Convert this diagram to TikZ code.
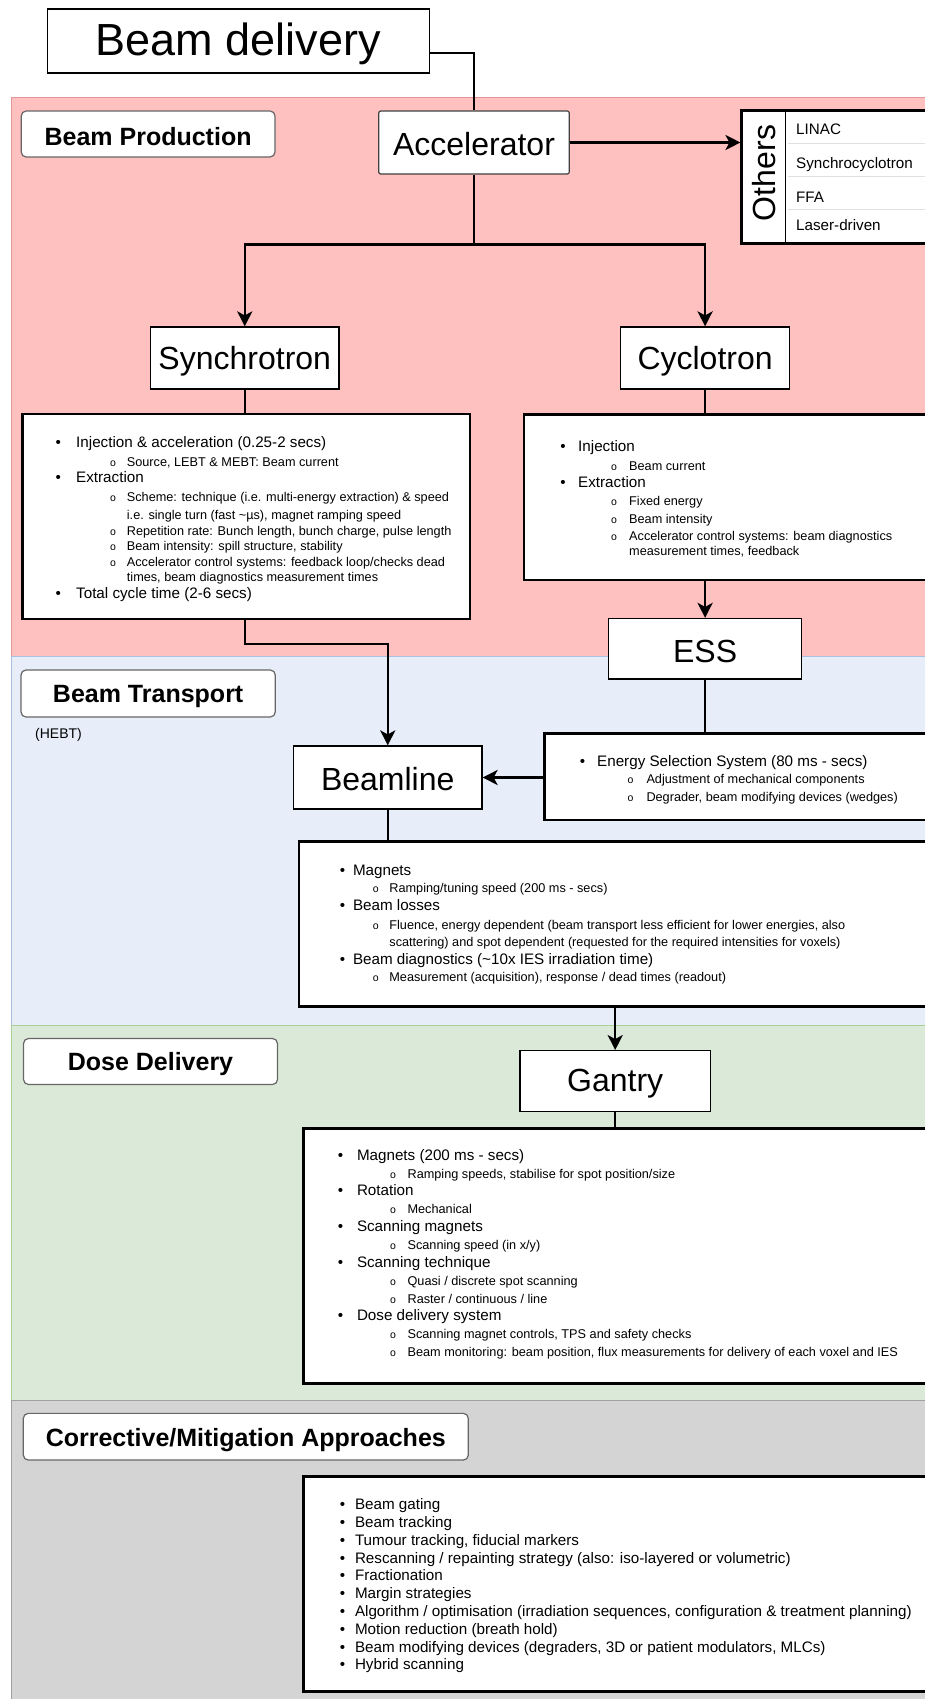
\documentclass[tikz,border=0pt]{standalone}
\usepackage{fontspec}
\setmainfont{Liberation Sans}
\usetikzlibrary{arrows.meta}
\definecolor{pinkf}{RGB}{255,192,192}
\definecolor{pinks}{RGB}{226,150,150}
\definecolor{bluef}{RGB}{231,238,250}
\definecolor{blues}{RGB}{170,192,225}
\definecolor{greenf}{RGB}{219,234,216}
\definecolor{greens}{RGB}{170,210,150}
\definecolor{grayf}{RGB}{212,212,212}
\definecolor{grays}{RGB}{160,160,160}
\newcounter{ln}
\newcommand\fs[1]{\fontsize{#1}{#1}\selectfont}
\newcommand\lowr[1]{\raisebox{-3pt}[\height][\depth]{#1}}
\newcommand\mainln[4]{\stepcounter{ln}\node[bul,font=\fs{15.2}] (b\theln) at (#1,#3+2.5) {•};\node[mtxt] (t\theln) at (#2,#3+2.5) {#4};}
\newcommand\subln[4]{\stepcounter{ln}\node[bul,font=\fs{10.5}] (b\theln) at (#1,#3+2.5) {o};\node[stxt] (t\theln) at (#2,#3+2.5) {#4};}
\newcommand\contln[3]{\stepcounter{ln}\node[stxt] (t\theln) at (#1,#2+2.5) {#3};}
\begin{document}
\begin{tikzpicture}[x=1pt,y=-1pt,
  band/.style={line width=1pt},
  tbox/.style={draw=black, fill=white, line width=1.2pt, inner sep=0pt, font=\fs{32}},
  lbox/.style={draw=black!60, fill=white, line width=1.2pt, rounded corners=5pt, inner sep=0pt, font=\bfseries\fs{25}},
  dbox/.style={draw=black, fill=white, line width=2.8pt, inner sep=0pt},
  conn/.style={line width=2.4pt},
  arr/.style={conn, -{Stealth[length=15pt,width=15pt,inset=4pt]}},
  bul/.style={inner sep=0pt, anchor=mid},
  mtxt/.style={inner sep=0pt, anchor=mid west, font=\fs{15.2}},
  stxt/.style={inner sep=0pt, anchor=mid west, font=\fs{12.7}},
]
\useasboundingbox (0,0) rectangle (925,1699);
\fill[white] (0,0) rectangle (925,1699);
% bands
\draw[band, draw=pinks, fill=pinkf] (11,97.7) rectangle (960,656.7);
\draw[band, draw=blues, fill=bluef] (11,656.7) rectangle (960,1025);
\draw[band, draw=greens, fill=greenf] (11,1025) rectangle (960,1400.5);
\draw[band, draw=grays, fill=grayf] (11,1400.5) rectangle (960,1720);

% title boxes
\node[tbox, font=\fs{45}, minimum width=382pt, minimum height=64pt] (bd) at (238.5,41) {\lowr{Beam delivery}};
\node[tbox, draw=black!75, rounded corners=2pt, minimum width=190.5pt, minimum height=63pt] (acc) at (474,142.5) {\raisebox{-1.5pt}[\height][\depth]{Accelerator}};
\node[tbox, minimum width=188.5pt, minimum height=62pt] (syn) at (244.75,358) {\lowr{Synchrotron}};
\node[tbox, minimum width=169pt, minimum height=62pt] (cyc) at (705.1,358) {\lowr{Cyclotron}};
\node[tbox, minimum width=192.8pt, minimum height=60.5pt] (ess) at (705.1,648.75) {\lowr{ESS}};
\node[tbox, minimum width=188.5pt, minimum height=63pt] (bl) at (387.75,777.5) {\raisebox{-1.5pt}[\height][\depth]{Beamline}};
\node[tbox, minimum width=190.6pt, minimum height=60.7pt] (gan) at (615.2,1081) {\lowr{Gantry}};

% section labels
\node[lbox, minimum width=253.8pt, minimum height=46pt] (lprod) at (148.1,134) {\lowr{Beam Production}};
\node[lbox, minimum width=254.3pt, minimum height=47pt] (ltra) at (148.15,693.5) {\lowr{Beam Transport}};
\node[mtxt, font=\fs{14}] (hebt) at (35,736) {(HEBT)};
\node[lbox, minimum width=254pt, minimum height=46pt] (ldose) at (150.5,1061.5) {\lowr{Dose Delivery}};
\node[lbox, minimum width=445pt, minimum height=46.7pt] (lcor) at (245.8,1436.7) {\lowr{Corrective/Mitigation Approaches}};

% Others
\node[draw=black, fill=white, line width=2.5pt, minimum width=218.3pt, minimum height=132.6pt, inner sep=0pt] (othbox) at (850.85,177) {};
\node[rotate=90, inner sep=0pt, font=\fs{32}] (oth) at (764.2,173) {Others};
\draw[line width=1.5pt] (othbox.north west) ++(45,0) coordinate (os1) -- (os1 |- othbox.south);
\draw[black!12, line width=0.8pt] (788,143.3) -- (960,143.3);
\draw[black!12, line width=0.8pt] (788,176) -- (960,176);
\draw[black!12, line width=0.8pt] (788,209) -- (960,209);
\node[mtxt] (i1) at (796,132) {LINAC};
\node[mtxt] (i2) at (796,166) {Synchrocyclotron};
\node[mtxt] (i3) at (796,199.4) {FFA};
\node[mtxt] (i4) at (796,227.7) {Laser-driven};

% detail boxes
\node[dbox, minimum width=447.3pt, minimum height=205pt] (synd) at (246.35,516.5) {};
\node[dbox, minimum width=436pt, minimum height=165.5pt] (cycd) at (742,497.25) {};
\node[dbox, minimum width=415.4pt, minimum height=86.7pt] (essd) at (752.3,776.65) {};
\node[dbox, minimum width=661pt, minimum height=164.5pt] (bld) at (629.5,923.95) {};
\node[dbox, minimum width=656.6pt, minimum height=255pt] (gand) at (631.7,1255.8) {};
\node[dbox, minimum width=656.6pt, minimum height=215pt] (cord) at (631.7,1584.2) {};

% Synchrotron details
\mainln{58.3}{76}{442.7}{Injection \& acceleration (0.25-2 secs)}
\subln{113}{126.7}{461}{Source, LEBT \& MEBT: Beam current}
\mainln{58.3}{76}{477.3}{Extraction}
\subln{113}{126.7}{496.7}{Scheme: technique (i.e. multi-energy extraction) \& speed}
\contln{126.7}{514.3}{i.e. single turn (fast \textasciitilde{}µs), magnet ramping speed}
\subln{113}{126.7}{530.7}{Repetition rate: Bunch length, bunch charge, pulse length}
\subln{113}{126.7}{545.7}{Beam intensity: spill structure, stability}
\subln{113}{126.7}{561.7}{Accelerator control systems: feedback loop/checks dead}
\contln{126.7}{576.7}{times, beam diagnostics measurement times}
\mainln{58.3}{76}{593.3}{Total cycle time (2-6 secs)}

% Cyclotron details
\mainln{563}{578}{446.7}{Injection}
\subln{614}{629}{465.7}{Beam current}
\mainln{563}{578}{482.3}{Extraction}
\subln{614}{629}{500.7}{Fixed energy}
\subln{614}{629}{518.3}{Beam intensity}
\subln{614}{629}{535.7}{Accelerator control systems: beam diagnostics}
\contln{629}{550.7}{measurement times, feedback}

% ESS details
\mainln{582.5}{597}{761.5}{Energy Selection System (80 ms - secs)}
\subln{630.6}{646.3}{778.5}{Adjustment of mechanical components}
\subln{630.6}{646.3}{796}{Degrader, beam modifying devices (wedges)}

% Beamline details
\mainln{342.6}{352.8}{870.7}{Magnets}
\subln{375.8}{389.2}{887.3}{Ramping/tuning speed (200 ms - secs)}
\mainln{342.6}{352.8}{905}{Beam losses}
\subln{375.8}{389.2}{924.3}{Fluence, energy dependent (beam transport less efficient for lower energies, also}
\contln{389.2}{941}{scattering) and spot dependent (requested for the required intensities for voxels)}
\mainln{342.6}{352.8}{959}{Beam diagnostics (\textasciitilde{}10x IES irradiation time)}
\subln{375.8}{389.2}{976.7}{Measurement (acquisition), response / dead times (readout)}

% Gantry details
\mainln{340.6}{356.8}{1155.3}{Magnets (200 ms - secs)}
\subln{393}{407.4}{1172.9}{Ramping speeds, stabilise for spot position/size}
\mainln{340.6}{356.8}{1190.3}{Rotation}
\subln{393}{407.4}{1208.6}{Mechanical}
\mainln{340.6}{356.8}{1226.3}{Scanning magnets}
\subln{393}{407.4}{1244.6}{Scanning speed (in x/y)}
\mainln{340.6}{356.8}{1261.9}{Scanning technique}
\subln{393}{407.4}{1280.3}{Quasi / discrete spot scanning}
\subln{393}{407.4}{1297.9}{Raster / continuous / line}
\mainln{340.6}{356.8}{1315.3}{Dose delivery system}
\subln{393}{407.4}{1333.6}{Scanning magnet controls, TPS and safety checks}
\subln{393}{407.4}{1350.9}{Beam monitoring: beam position, flux measurements for delivery of each voxel and IES}

% Corrective details
\mainln{342.6}{354.8}{1504.5}{Beam gating}
\mainln{342.6}{354.8}{1522.3}{Beam tracking}
\mainln{342.6}{354.8}{1540.1}{Tumour tracking, fiducial markers}
\mainln{342.6}{354.8}{1557.9}{Rescanning / repainting strategy (also: iso-layered or volumetric)}
\mainln{342.6}{354.8}{1575.7}{Fractionation}
\mainln{342.6}{354.8}{1593.5}{Margin strategies}
\mainln{342.6}{354.8}{1611.3}{Algorithm / optimisation (irradiation sequences, configuration \& treatment planning)}
\mainln{342.6}{354.8}{1629.1}{Motion reduction (breath hold)}
\mainln{342.6}{354.8}{1646.9}{Beam modifying devices (degraders, 3D or patient modulators, MLCs)}
\mainln{342.6}{354.8}{1664.7}{Hybrid scanning}

% connectors
\draw[conn, line width=2pt] ([yshift=-11.7pt]bd.east) -| (acc.north);
\draw[arr] (acc.east) -- (othbox.west |- acc.east);
\coordinate (j1) at (474,244.3);
\draw[conn] (acc.south) -- (j1);
\draw[arr] (j1) -| (syn.north);
\draw[arr] (j1) -| (cyc.north);
\draw[conn] (syn.south) -- (syn.south |- synd.north);
\draw[conn] (cyc.south) -- (cyc.south |- cycd.north);
\draw[arr] (cyc.south |- cycd.south) -- (ess.north);
\draw[conn] (ess.south) -- (ess.south |- essd.north);
\coordinate (j2) at (387.75,644);
\draw[arr] (syn.south |- synd.south) |- (j2) -- (bl.north);
\draw[arr] (essd.west |- bl.east) -- (bl.east);
\draw[conn] (bl.south) -- (bl.south |- bld.north);
\draw[arr] (gan.north |- bld.south) -- (gan.north);
\draw[conn] (gan.south) -- (gan.south |- gand.north);
\end{tikzpicture}
\end{document}
